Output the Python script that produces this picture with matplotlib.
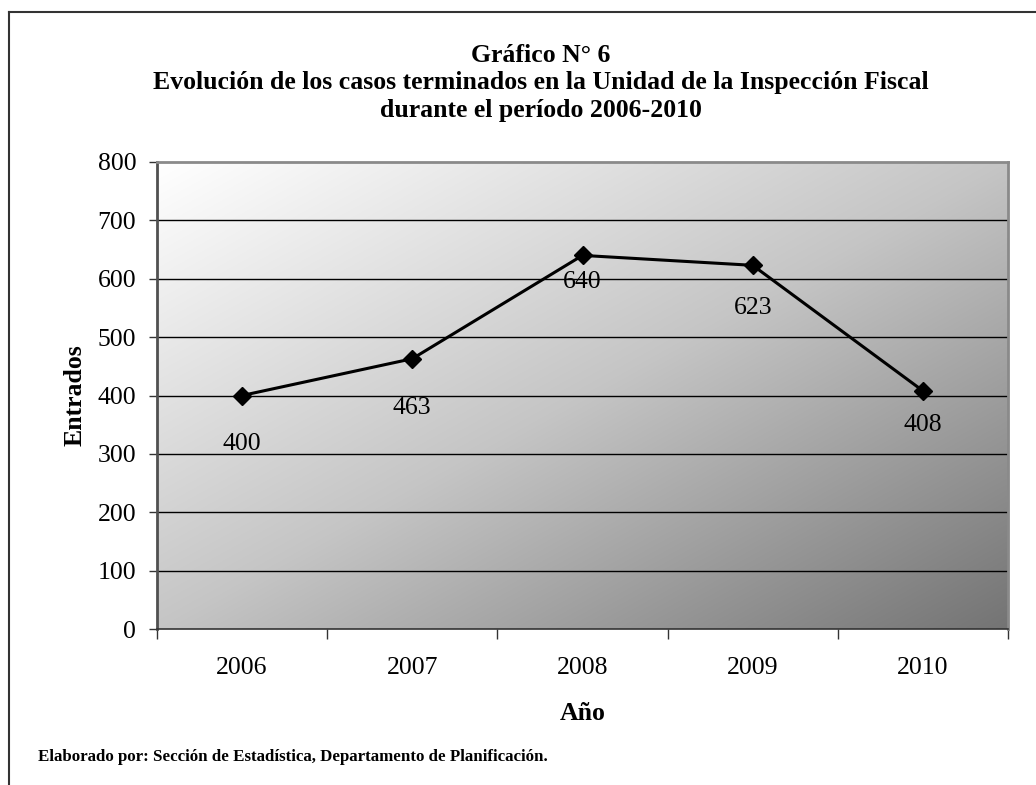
import numpy as np
import matplotlib
matplotlib.use("Agg")
import matplotlib.pyplot as plt
from matplotlib.lines import Line2D

plt.rcParams['font.family'] = ['Liberation Serif', 'DejaVu Serif']

years = ['2006', '2007', '2008', '2009', '2010']
entrados = [400, 463, 640, 623, 408]
# label offsets in pixels below each point (as placed in the original chart)
label_drop = [48, 49, 27, 43, 34]

title_lines = ["Gráfico N° 6",
               "Evolución de los casos terminados en la Unidad de la Inspección Fiscal",
               "durante el período 2006-2010"]
footer = "Elaborado por: Sección de Estadística, Departamento de Planificación."

fig = plt.figure(figsize=(10.36, 7.85), dpi=100)
ax = fig.add_axes([157/1036, 1-629/785, (1008-157)/1036, (629-162)/785])

# diagonal gray gradient background
n = 256
u = np.linspace(0, 1, n)
U, V = np.meshgrid(u, u)
t = (U + V) / 2.0
grad = np.interp(t, [0, 0.5, 1], [255, 197, 116])
rgb = np.dstack([grad, grad, grad]) / 255.0
ax.imshow(rgb, extent=(-0.5, 4.5, 0, 800), aspect='auto', zorder=0,
          interpolation='bilinear')

x = np.arange(len(years))
ax.set_xlim(-0.5, 4.5)
ax.set_ylim(0, 800)

for yv in range(100, 800, 100):
    ax.axhline(yv, color='black', lw=1, zorder=1)

ax.plot(x, entrados, color='black', lw=2.2, marker='D', markersize=9,
        zorder=3)

for xi, v, d in zip(x, entrados, label_drop):
    ax.annotate(str(v), (xi, v), xytext=(0, -d * 0.72), textcoords='offset points',
                ha='center', va='center', fontsize=18.5, zorder=4)

ax.set_yticks(range(0, 801, 100))
ax.set_yticklabels([str(v) for v in range(0, 801, 100)], fontsize=18.5)
ax.tick_params(axis='y', direction='out', length=6, width=1, color='#333333', pad=9)

ax.set_xticks(x)
ax.set_xticklabels(years, fontsize=18.5)
ax.set_xticks(np.arange(-0.5, 5, 1), minor=True)
ax.tick_params(axis='x', which='major', length=0, pad=20)
ax.tick_params(axis='x', which='minor', direction='out', length=7, width=1,
               color='#333333')

ax.spines['top'].set_color('#8a8a8a')
ax.spines['right'].set_color('#8a8a8a')
ax.spines['top'].set_linewidth(2)
ax.spines['right'].set_linewidth(2)
ax.spines['left'].set_color('#505050')
ax.spines['left'].set_linewidth(2)
ax.spines['bottom'].set_color('#333333')
ax.spines['bottom'].set_linewidth(1.2)

ax.set_ylabel("Entrados", fontsize=18.5, fontweight='bold', labelpad=8)
ax.set_xlabel("Año", fontsize=18.5, fontweight='bold', labelpad=17)

for i, line in enumerate(title_lines):
    fig.text(541/1036, 1 - (55 + i * 27.5)/785, line, ha='center', va='center',
             fontsize=18.5, fontweight='bold')

fig.text(38/1036, 1 - 757/785, footer, ha='left', va='center',
         fontsize=12.2, fontweight='bold')

# outer frame (left and top edges)
fig.add_artist(Line2D([9/1036, 9/1036], [0, 1 - 12/785], color='#333333', lw=1.5))
fig.add_artist(Line2D([9/1036, 1], [1 - 12/785, 1 - 12/785], color='#333333', lw=1.5))

fig.savefig("out.png", dpi=100)
